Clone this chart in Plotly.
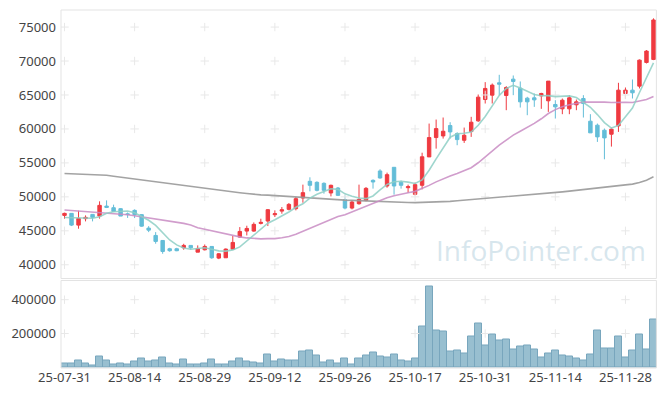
import pandas as pd
import plotly.graph_objects as go

# ---------------- data ----------------
holidays = ["2025-08-15", "2025-10-03", "2025-10-06", "2025-10-07", "2025-10-08", "2025-10-09"]
dates = [d.strftime("%y-%m-%d") for d in pd.bdate_range("2025-07-31", "2025-12-04")
         if d.strftime("%Y-%m-%d") not in holidays]

opens = [47270, 47570, 45840, 46790, 47420, 47170, 48640, 48400, 48260, 47500,
         48010, 47380, 45400, 44320, 43580, 42360, 42360, 42500, 42850, 41860,
         42210, 42700, 40980, 41030, 42300, 44080, 44960, 44960, 46090, 46440,
         47370, 47900, 48160, 48260, 49830, 52290, 52140, 51990, 50570, 51300,
         49580, 48350, 48990, 49480, 52430, 53810, 51600, 54350, 52140, 51350,
         50370, 51700, 55880, 58730, 58970, 60500, 59320, 58330, 59610, 61190,
         64330, 64970, 66790, 64920, 67330, 66000, 64530, 64580, 64870, 64140,
         63600, 62960, 62960, 63550, 64480, 61140, 60550, 59810, 59220, 60450,
         65220, 65710, 66300, 69790, 70230]
highs = [47670, 47600, 47960, 47270, 47450, 49340, 49480, 48850, 48350, 47700,
         48160, 47470, 45690, 44810, 43600, 42500, 42500, 43090, 42900, 42850,
         42990, 42700, 41720, 42400, 44270, 45550, 45750, 46240, 46780, 48210,
         48010, 48500, 49090, 49980, 51800, 52880, 52290, 52140, 51800, 51450,
         50220, 49480, 51800, 51450, 52580, 54060, 53570, 54350, 52390, 51800,
         52100, 56500, 60790, 61380, 61680, 60990, 59510, 60200, 61780, 65070,
         66890, 66690, 67970, 66300, 67870, 66990, 64730, 65220, 65320, 67040,
         64230, 64480, 64970, 64330, 64970, 62170, 60790, 60060, 60200, 66790,
         66100, 67280, 70230, 71610, 76280]
lows = [46790, 45700, 45310, 46390, 46390, 46790, 48350, 47760, 47170, 46900,
        46880, 45600, 44810, 43100, 41620, 41920, 42000, 42210, 42210, 41860,
        42110, 40880, 40830, 41000, 42210, 43980, 44320, 44860, 45940, 45700,
        47030, 47520, 48010, 48010, 49140, 50810, 50810, 50470, 50070, 50120,
        48160, 48160, 48850, 49340, 51210, 52680, 51350, 50320, 51210, 50620,
        50220, 51100, 55880, 57100, 58580, 58580, 57600, 57940, 58830, 61040,
        63740, 63740, 64970, 62760, 64970, 63150, 62020, 63250, 62960, 62510,
        61530, 62170, 62170, 62760, 61680, 59420, 58090, 55530, 57400, 59560,
        64430, 64480, 65960, 69640, 70130]
closes = [47570, 45840, 46830, 46980, 46980, 48750, 48450, 47860, 47170, 47400,
          47380, 45690, 45100, 43440, 41960, 42070, 42070, 42850, 42500, 42400,
          42700, 41030, 41620, 42310, 43290, 44910, 45350, 45950, 46240, 48110,
          47520, 48100, 48890, 49730, 50620, 51700, 50960, 50960, 51700, 50220,
          48350, 49240, 49630, 51250, 52190, 52780, 53270, 51600, 51700, 51500,
          51800, 55900, 58730, 60050, 59660, 59560, 58430, 59070, 60990, 64680,
          65960, 66450, 66590, 66100, 66990, 63990, 63990, 64280, 65220, 67040,
          63250, 64230, 64580, 63990, 63740, 59420, 58830, 58680, 59960, 65710,
          65710, 65320, 70130, 71460, 76040]
volumes = [23350, 23350, 42940, 23350, 13530, 64520, 42940, 17470, 23350, 17470,
           37060, 52760, 37060, 42940, 58640, 23350, 17470, 46880, 17470, 17470,
           23350, 46880, 17470, 17470, 37060, 52760, 37060, 31170, 23350, 76290,
           37060, 46880, 41000, 41000, 95880, 101760, 70410, 31170, 42940, 23350,
           52760, 17470, 52760, 70410, 89990, 66470, 58640, 78230, 42940, 37060,
           52760, 240980, 478200, 217450, 211570, 95880, 101760, 84110, 182160, 260570,
           129230, 195870, 158640, 164520, 105700, 123350, 129230, 105700, 58640, 84110,
           99820, 70410, 64520, 52760, 41000, 76290, 217450, 111580, 111580, 182160,
           58640, 99820, 193930, 105700, 282160]
ma5_head = [46950, 46930, 46900, 46950]
ma20_head = [48060, 47990, 47920, 47840, 47770, 47670, 47600, 47520, 47470, 47370,
             47230, 47080, 46930, 46790, 46640, 46490, 46340, 46090, 45850]
ma120 = [53440, 53400, 53360, 53320, 53280, 53230, 53170, 53040, 52900, 52760,
         52620, 52480, 52330, 52180, 52040, 51910, 51780, 51650, 51520, 51380,
         51230, 51100, 50980, 50860, 50730, 50610, 50490, 50360, 50290, 50250,
         50180, 50100, 50020, 49940, 49860, 49770, 49690, 49650, 49610, 49560,
         49520, 49480, 49430, 49380, 49330, 49280, 49230, 49210, 49200, 49180,
         49150, 49170, 49200, 49240, 49280, 49330, 49420, 49500, 49590, 49680,
         49760, 49840, 49910, 50000, 50090, 50180, 50270, 50360, 50440, 50540,
         50640, 50740, 50850, 50950, 51060, 51170, 51290, 51400, 51520, 51640,
         51760, 51880, 52100, 52450, 52950]
price_ticks = [40000, 45000, 50000, 55000, 60000, 65000, 70000, 75000]
volume_ticks = [200000, 400000]
watermark = "InfoPointer.com"

# ---------------- derived ----------------
cs = pd.Series(closes, dtype=float)
ma5 = cs.rolling(5).mean().tolist()
ma5[:len(ma5_head)] = ma5_head
ma20 = cs.rolling(20).mean().tolist()
ma20[:len(ma20_head)] = ma20_head

RED = "#ef3a40"
BLUE = "#63bdd8"
FRAME = "#e3e3e3"
TXT = "#444444"
FONT = "Noto Sans"
CROSS = "#e8e8e8"

# page body has an 8px margin; the figure is sized so that the plot lands where the reference has it
VOL_TOP = 88 / 360
PRICE_BOT = 90 / 360

fig = go.Figure()

# volume
fig.add_trace(go.Bar(x=dates, y=volumes, xaxis="x", yaxis="y2",
                     marker=dict(color="#98bfd0", line=dict(color="#78a6bd", width=1)),
                     showlegend=False))

# grid crosses
tick_x = dates[::10]
gx, gy = [], []
for xv in tick_x:
    for yv in price_ticks:
        gx.append(xv); gy.append(yv)
fig.add_trace(go.Scatter(x=gx, y=gy, mode="markers", xaxis="x", yaxis="y",
                         marker=dict(symbol="cross-thin", size=6, line=dict(color=CROSS, width=1)),
                         hoverinfo="skip", showlegend=False))
vx, vy = [], []
for xv in tick_x:
    for yv in volume_ticks:
        vx.append(xv); vy.append(yv)
fig.add_trace(go.Scatter(x=vx, y=vy, mode="markers", xaxis="x", yaxis="y2",
                         marker=dict(symbol="cross-thin", size=6, line=dict(color=CROSS, width=1)),
                         hoverinfo="skip", showlegend=False))

# candles
fig.add_trace(go.Candlestick(x=dates, open=opens, high=highs, low=lows, close=closes,
                             xaxis="x", yaxis="y",
                             increasing=dict(line=dict(color=RED, width=1), fillcolor=RED),
                             decreasing=dict(line=dict(color=BLUE, width=1), fillcolor=BLUE),
                             whiskerwidth=0, showlegend=False))

# moving averages
fig.add_trace(go.Scatter(x=dates, y=ma120, mode="lines", line=dict(color="#9a9a9a", width=1.6),
                         opacity=0.9, xaxis="x", yaxis="y", showlegend=False))
fig.add_trace(go.Scatter(x=dates, y=ma20, mode="lines", line=dict(color="#c98cc4", width=1.6),
                         opacity=0.85, xaxis="x", yaxis="y", showlegend=False))
fig.add_trace(go.Scatter(x=dates, y=ma5, mode="lines", line=dict(color="#8fd0c6", width=1.6),
                         opacity=0.85, xaxis="x", yaxis="y", showlegend=False))

fig.update_layout(
    width=649, height=380,
    margin=dict(l=53, r=0, t=2, b=20),
    paper_bgcolor="white", plot_bgcolor="white",
    font=dict(family=FONT, size=13, color=TXT),
    bargap=0,
    xaxis=dict(type="category", categoryorder="array", categoryarray=dates,
               anchor="y2", range=[-0.5, len(dates) - 0.5], automargin=False,
               tickmode="array", tickvals=tick_x, ticktext=tick_x, tickangle=0,
               showgrid=False, zeroline=False, showline=False, ticks="",
               rangeslider=dict(visible=False), tickfont=dict(size=13, color=TXT)),
    yaxis=dict(domain=[PRICE_BOT, 1], range=[37980, 77510], tickvals=price_ticks,
               tickformat="d", automargin=False,
               showgrid=False, zeroline=False, ticks="", ticklabelstandoff=4,
               tickfont=dict(size=13, color=TXT)),
    yaxis2=dict(domain=[0, VOL_TOP], range=[-4000, 513500], tickvals=volume_ticks,
                tickformat="d", automargin=False,
                showgrid=False, zeroline=False, ticks="", ticklabelstandoff=4,
                tickfont=dict(size=13, color=TXT)),
    shapes=[
        dict(type="rect", xref="paper", yref="paper", x0=0, x1=0.999, y0=PRICE_BOT, y1=1,
             line=dict(color=FRAME, width=1)),
        dict(type="rect", xref="paper", yref="paper", x0=0, x1=0.999, y0=0, y1=VOL_TOP,
             line=dict(color=FRAME, width=1)),
    ],
    annotations=[dict(text=watermark, xref="paper", yref="paper", x=0.985, y=PRICE_BOT + 0.02,
                      xanchor="right", yanchor="bottom", showarrow=False,
                      font=dict(family="Open Sans", size=28, color="rgba(175,205,220,0.5)"))],
)

fig.write_html("out.html")
